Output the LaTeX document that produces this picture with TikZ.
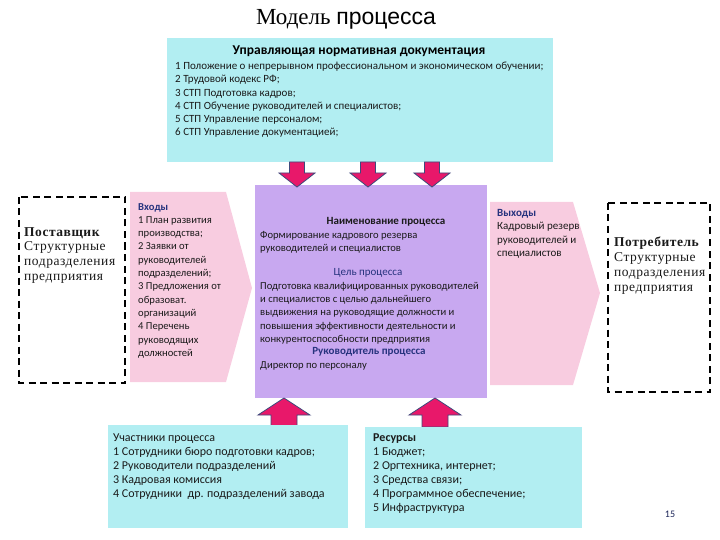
\documentclass[tikz,border=0pt]{standalone}
\usepackage{fontspec}
\setmainfont{Carlito}
\newfontfamily\serifb{Liberation Serif}
\newfontfamily\seriftext[LetterSpace=4]{Liberation Serif}
\newfontfamily\sansb{Liberation Sans}
\definecolor{cyanbox}{HTML}{B2EEF2}
\definecolor{purplebox}{HTML}{C8A8F0}
\definecolor{pinkbox}{HTML}{F8CCE0}
\definecolor{arrowfill}{HTML}{E8186A}
\definecolor{arrowline}{HTML}{3E4A7C}
\definecolor{headblue}{HTML}{27337E}
\definecolor{txt}{HTML}{1A1A1A}
\tikzset{
  cyanrect/.style={fill=cyanbox, draw=none},
  purplerect/.style={fill=purplebox, draw=none},
  pinkshape/.style={fill=pinkbox, draw=none},
  dashbox/.style={draw=black, line width=1.6pt, dash pattern=on 7pt off 4.5pt, fill=white},
  blockarrow/.style={fill=arrowfill, draw=arrowline, line width=0.8pt, line join=miter},
  body/.style={inner sep=0pt, anchor=north west, align=left, text=txt, font=\fontsize{10.6}{13.3}\selectfont},
  serifbody/.style={inner sep=0pt, anchor=north west, align=left, text=txt, font=\seriftext\fontsize{13.5}{14.8}\selectfont},
}
\begin{document}
\begin{tikzpicture}[x=1pt,y=-1pt]
\useasboundingbox (0,0) rectangle (720,540);
% title
\node[inner sep=0pt] (title) at (346,19) {\fontsize{23}{25}\selectfont\serifb Модель \sansb процесса};

% top box
\fill[cyanrect] (167,38) rectangle (553,162);
\node[inner sep=0pt, font=\bfseries\fontsize{13.5}{15}\selectfont] (toptitle) at (359,51) {Управляющая нормативная документация};
\node[body, font=\fontsize{11}{13.2}\selectfont] (toplist) at (175,62) {1 Положение о непрерывном профессиональном и экономическом обучении;\\
2 Трудовой кодекс РФ;\\
3 СТП Подготовка кадров;\\
4 СТП Обучение руководителей и специалистов;\\
5 СТП Управление персоналом;\\
6 СТП Управление документацией;};

% purple box
\fill[purplerect] (255,185) rectangle (487,398);

% top arrows
\foreach \cx in {297,368,432}{
  \draw[blockarrow] (\cx-7.5,162) -- (\cx+7.5,162) -- (\cx+7.5,173) -- (\cx+18,173) -- (\cx,187) -- (\cx-18,173) -- (\cx-7.5,173) -- cycle;
}
% bottom arrows
\foreach \cx in {284,435}{
  \draw[blockarrow] (\cx-13,427) -- (\cx+13,427) -- (\cx+13,415) -- (\cx+26,415) -- (\cx,398) -- (\cx-26,415) -- (\cx-13,415) -- cycle;
}

% supplier
\draw[dashbox] (19,197) rectangle (125,383);
\node[serifbody] (supp) at (24,227) {\textbf{Поставщик}\\Структурные\\подразделения\\предприятия};

% inputs pentagon
\fill[pinkshape] (130,192) -- (226,192) -- (252,288) -- (226,382) -- (130,382) -- cycle;
\node[body] (inputs) at (138,203) {\textcolor{headblue}{\textbf{Входы}}\\
1 План развития\\производства;\\2 Заявки от\\руководителей\\подразделений;\\3 Предложения от\\образоват.\\организаций\\4 Перечень\\руководящих\\должностей};

% purple contents
\node[inner sep=0pt, font=\bfseries\fontsize{11}{12}\selectfont, text=txt] (pname) at (386,222) {Наименование процесса};
\node[body] (pform) at (260,231) {Формирование кадрового резерва\\руководителей и специалистов};
\node[inner sep=0pt, font=\fontsize{11}{12}\selectfont, text=headblue] (pgoal) at (368,273) {Цель процесса};
\node[body] (pgoaltext) at (260,282) {Подготовка квалифицированных руководителей\\и специалистов с целью дальнейшего\\выдвижения на руководящие должности и\\повышения эффективности деятельности и\\конкурентоспособности предприятия};
\node[inner sep=0pt, font=\bfseries\fontsize{11}{12}\selectfont, text=headblue] (plead) at (369,352) {Руководитель процесса};
\node[body] (pdir) at (260,361) {Директор по персоналу};

% outputs pentagon
\fill[pinkshape] (490,202) -- (573,202) -- (600,293) -- (573,385) -- (490,385) -- cycle;
\node[body, font=\fontsize{11}{13.5}\selectfont] (outputs) at (497,209) {\textcolor{headblue}{\textbf{Выходы}}\\Кадровый резерв\\руководителей и\\специалистов};

% consumer
\draw[dashbox] (608,203) rectangle (710,392);
\node[serifbody] (cons) at (614,237) {\textbf{Потребитель}\\Структурные\\подразделения\\предприятия};

% bottom boxes
\fill[cyanrect] (108,425) rectangle (348,528);
\node[body, font=\fontsize{12}{14}\selectfont] (part) at (113,434) {Участники процесса\\1 Сотрудники бюро подготовки кадров;\\2 Руководители подразделений\\3 Кадровая комиссия\\4 Сотрудники\ \ др. подразделений завода};
\fill[cyanrect] (365,427) rectangle (582,528);
\node[body, font=\fontsize{12}{14}\selectfont] (res) at (373,434) {\textbf{Ресурсы}\\1 Бюджет;\\2 Оргтехника, интернет;\\3 Средства связи;\\4 Программное обеспечение;\\5 Инфраструктура};

\node[inner sep=0pt, font=\fontsize{10}{11}\selectfont, text=headblue!70!black] (pg) at (670,514) {15};
\end{tikzpicture}
\end{document}
